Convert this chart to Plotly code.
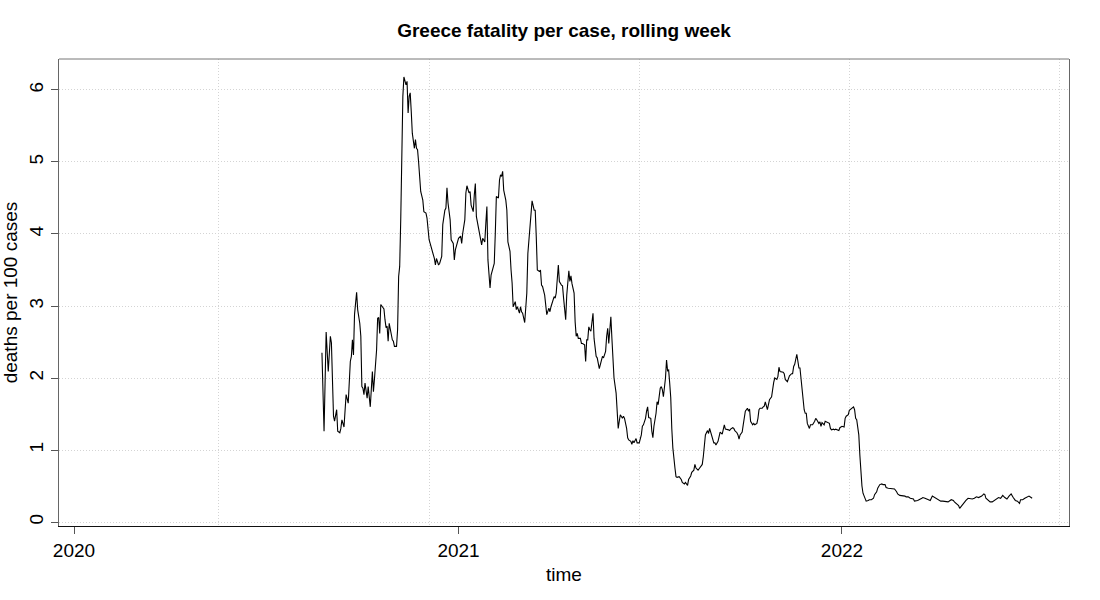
import pandas as pd
import plotly.graph_objects as go

# ---- data ----
# days counted from 1 January 2020
day_2020 = [236, 238, 240, 242, 244, 245, 247, 248, 250, 251,
            253, 254, 255, 257, 259, 261, 263, 264, 265, 266,
            267, 269, 270, 272, 273, 274, 275, 276, 277, 279,
            280, 281, 282, 284, 285, 286, 288, 289, 290, 291,
            292, 293, 295, 296, 297, 298, 299, 300, 301, 303,
            304, 305, 307, 308, 309, 310, 311, 312, 313, 314,
            315, 316, 317, 318, 319, 320, 321, 322, 324, 325,
            326, 327, 328, 330, 332, 333, 335, 336, 338, 339,
            341, 343, 344, 345, 347, 348, 350, 351, 353, 354,
            355, 356, 358, 359, 361, 362, 363, 365]
fatality_2020 = [2.35, 1.26, 2.64, 2.09, 2.58, 2.49, 1.47, 1.40, 1.56, 1.26,
                 1.24, 1.30, 1.42, 1.32, 1.77, 1.65, 2.23, 2.30, 2.53, 2.32,
                 2.88, 3.19, 2.95, 2.76, 2.58, 1.88, 1.86, 1.77, 1.93, 1.72,
                 1.88, 1.67, 1.60, 2.09, 1.81, 1.99, 2.39, 2.83, 2.84, 2.62,
                 3.02, 3.00, 2.96, 2.81, 2.70, 2.72, 2.51, 2.76, 2.67, 2.53,
                 2.51, 2.44, 2.44, 2.67, 3.41, 3.55, 4.20, 5.12, 5.91, 6.18,
                 6.14, 6.07, 6.12, 5.68, 5.91, 5.96, 5.70, 5.40, 5.19, 5.31,
                 5.19, 5.17, 5.00, 4.59, 4.47, 4.31, 4.29, 4.22, 3.92, 3.87,
                 3.76, 3.66, 3.57, 3.66, 3.57, 3.59, 3.69, 4.13, 4.33, 4.36,
                 4.64, 4.43, 4.20, 3.92, 3.87, 3.64, 3.78, 3.89]

day_2021 = [366, 368, 369, 370, 372, 373, 374, 376, 377, 378,
            380, 381, 382, 383, 384, 385, 387, 388, 389, 391,
            392, 393, 394, 396, 397, 398, 400, 401, 402, 404,
            405, 406, 407, 408, 409, 411, 412, 413, 415, 416,
            417, 418, 420, 421, 422, 424, 425, 426, 427, 429,
            430, 431, 432, 434, 435, 436, 438, 439, 440, 441,
            443, 444, 445, 446, 448, 449, 450, 452, 453, 454,
            455, 457, 458, 459, 461, 462, 464, 465, 466, 468,
            469, 471, 472, 473, 474, 476, 477, 478, 479, 480,
            482, 483, 484, 486, 487, 488, 489, 490, 491, 492,
            494, 495, 497, 498, 500, 501, 502, 503, 504, 506,
            507, 508, 509, 511, 512, 513, 514, 516, 517, 518,
            519, 520, 522, 523, 524, 526, 527, 528, 530, 531,
            532, 533, 535, 536, 537, 538, 540, 541, 542, 544,
            545, 546, 547, 549, 550, 551, 552, 554, 555, 556,
            558, 559, 560, 561, 563, 564, 565, 566, 567, 568,
            569, 570, 572, 573, 574, 576, 578, 579, 581, 582,
            584, 585, 587, 588, 590, 591, 592, 594, 595, 596,
            598, 599, 600, 601, 603, 604, 605, 606, 608, 609,
            610, 611, 613, 614, 615, 617, 618, 619, 620, 622,
            623, 624, 625, 627, 628, 629, 631, 632, 633, 634,
            636, 637, 638, 639, 641, 642, 643, 644, 646, 647,
            648, 650, 651, 652, 653, 655, 656, 657, 658, 660,
            661, 662, 664, 665, 666, 667, 669, 670, 671, 672,
            674, 675, 676, 677, 679, 680, 681, 683, 684, 685,
            686, 688, 689, 690, 691, 692, 693, 695, 696, 697,
            698, 700, 701, 702, 703, 705, 706, 707, 709, 710,
            711, 712, 714, 715, 716, 717, 719, 720, 721, 723,
            724, 725, 726, 728, 729, 730]
fatality_2021 = [3.94, 3.97, 3.87, 4.01, 4.20, 4.57, 4.67, 4.57, 4.59, 4.40,
                 4.31, 4.54, 4.70, 4.24, 4.17, 4.06, 3.94, 3.85, 3.94, 3.89,
                 4.15, 4.38, 3.64, 3.25, 3.43, 3.50, 3.59, 4.01, 4.52, 4.50,
                 4.75, 4.82, 4.80, 4.87, 4.61, 4.47, 4.33, 3.89, 3.76, 3.50,
                 3.32, 2.99, 3.06, 2.95, 2.99, 2.90, 2.99, 2.92, 2.90, 2.77,
                 2.99, 3.18, 3.73, 4.10, 4.33, 4.46, 4.33, 4.33, 3.96, 3.50,
                 3.48, 3.50, 3.29, 3.27, 3.15, 2.99, 2.88, 2.97, 2.92, 2.99,
                 3.04, 3.13, 3.11, 3.18, 3.57, 3.34, 3.29, 3.28, 3.11, 2.81,
                 3.15, 3.49, 3.34, 3.42, 3.31, 3.18, 2.78, 2.58, 2.62, 2.55,
                 2.55, 2.48, 2.48, 2.46, 2.23, 2.53, 2.53, 2.71, 2.67, 2.65,
                 2.90, 2.55, 2.30, 2.28, 2.13, 2.18, 2.23, 2.30, 2.28, 2.37,
                 2.58, 2.69, 2.48, 2.85, 2.55, 2.18, 2.00, 1.79, 1.49, 1.30,
                 1.40, 1.49, 1.44, 1.47, 1.44, 1.30, 1.17, 1.14, 1.12, 1.08,
                 1.13, 1.10, 1.16, 1.10, 1.10, 1.10, 1.21, 1.33, 1.35, 1.44,
                 1.54, 1.60, 1.45, 1.44, 1.26, 1.17, 1.33, 1.51, 1.67, 1.63,
                 1.86, 1.88, 1.84, 1.74, 2.00, 2.25, 2.10, 2.11, 1.93, 1.73,
                 1.30, 1.03, 0.75, 0.63, 0.62, 0.63, 0.59, 0.55, 0.53, 0.55,
                 0.51, 0.59, 0.64, 0.69, 0.72, 0.80, 0.75, 0.72, 0.74, 0.76,
                 0.80, 0.91, 1.10, 1.21, 1.27, 1.23, 1.30, 1.25, 1.12, 1.10,
                 1.10, 1.07, 1.12, 1.21, 1.25, 1.22, 1.31, 1.35, 1.29, 1.29,
                 1.28, 1.27, 1.29, 1.31, 1.30, 1.27, 1.24, 1.21, 1.15, 1.21,
                 1.25, 1.35, 1.44, 1.54, 1.58, 1.54, 1.57, 1.40, 1.35, 1.37,
                 1.35, 1.37, 1.44, 1.56, 1.58, 1.58, 1.60, 1.61, 1.67, 1.56,
                 1.63, 1.70, 1.74, 1.86, 1.94, 2.00, 1.98, 2.02, 2.15, 2.09,
                 2.09, 2.08, 2.06, 1.98, 1.95, 1.98, 2.03, 2.06, 2.06, 2.16,
                 2.19, 2.33, 2.21, 2.14, 2.14, 2.00, 1.77, 1.56, 1.51, 1.51,
                 1.37, 1.30, 1.35, 1.35, 1.35, 1.40, 1.44, 1.42, 1.37, 1.39,
                 1.33, 1.38, 1.35, 1.40, 1.39, 1.39, 1.37, 1.30, 1.28, 1.29,
                 1.28, 1.29, 1.28, 1.27, 1.31, 1.32]

day_2022 = [731, 733, 734, 735, 737, 738, 740, 742, 743, 744,
            745, 747, 748, 749, 750, 751, 753, 754, 756, 757,
            759, 761, 762, 764, 765, 767, 769, 770, 772, 773,
            775, 776, 778, 780, 781, 783, 784, 786, 788, 789,
            791, 792, 794, 796, 797, 799, 800, 803, 807, 808,
            810, 812, 815, 817, 819, 821, 823, 825, 827, 829,
            832, 835, 837, 838, 840, 842, 843, 845, 847, 849,
            851, 853, 855, 857, 859, 861, 864, 866, 867, 868,
            870, 872, 874, 876, 878, 880, 882, 884, 886, 888,
            890, 892, 894, 896, 898, 900, 901, 903, 905, 907,
            909, 911, 912]
fatality_2022 = [1.33, 1.32, 1.44, 1.47, 1.49, 1.55, 1.58, 1.60, 1.56, 1.44,
                 1.42, 1.21, 0.93, 0.66, 0.50, 0.40, 0.33, 0.29, 0.30, 0.31,
                 0.31, 0.33, 0.38, 0.42, 0.47, 0.52, 0.53, 0.52, 0.52, 0.48,
                 0.47, 0.47, 0.46, 0.46, 0.46, 0.42, 0.39, 0.37, 0.37, 0.36,
                 0.36, 0.35, 0.35, 0.33, 0.33, 0.32, 0.29, 0.30, 0.33, 0.34,
                 0.33, 0.32, 0.30, 0.36, 0.34, 0.32, 0.30, 0.29, 0.29, 0.29,
                 0.28, 0.31, 0.30, 0.28, 0.25, 0.23, 0.19, 0.23, 0.26, 0.30,
                 0.33, 0.32, 0.32, 0.33, 0.35, 0.34, 0.36, 0.39, 0.38, 0.33,
                 0.30, 0.28, 0.28, 0.30, 0.33, 0.34, 0.33, 0.37, 0.34, 0.32,
                 0.36, 0.39, 0.34, 0.30, 0.29, 0.26, 0.31, 0.31, 0.33, 0.35,
                 0.36, 0.34, 0.33]

x_tick_dates = ["2020-01-01", "2021-01-01", "2022-01-01"]
x_tick_labels = ["2020", "2021", "2022"]
grid_dates = ["2020-05-18", "2020-12-04", "2021-06-22", "2022-01-08", "2022-07-27"]
y_ticks = [0, 1, 2, 3, 4, 5, 6]

# ---- build ----
days = day_2020 + day_2021 + day_2022
values = fatality_2020 + fatality_2021 + fatality_2022
assert len(days) == len(values)
dates = pd.Timestamp("2020-01-01") + pd.to_timedelta(days, unit="D")

FONT = "Liberation Sans, Arial, Helvetica, sans-serif"
GRID = "#d4d4d4"
GRID_DASH = "1px,2px"

fig = go.Figure(go.Scatter(x=dates, y=values, mode="lines",
                           line=dict(color="black", width=1.1),
                           hoverinfo="x+y", showlegend=False))

fig.update_layout(
    width=1100, height=600,
    margin=dict(l=59, r=31, t=59, b=74),
    paper_bgcolor="white", plot_bgcolor="white",
    font=dict(family=FONT, size=19, color="black"),
    title=dict(text="<b>Greece fatality per case, rolling week</b>",
               x=0.5, xref="paper", xanchor="center",
               y=1 - 30 / 600, yref="container", yanchor="middle",
               font=dict(family=FONT, size=19, color="black")),
    shapes=[dict(type="line", xref="paper", yref="paper", x0=0, x1=1, y0=1, y1=1,
                 line=dict(color="#777777", width=1), layer="above")],
)

fig.update_xaxes(
    type="date",
    range=["2019-12-17 17:00", "2022-08-05 02:00"],
    tickmode="array", tickvals=x_tick_dates, ticktext=x_tick_labels,
    ticks="outside", ticklen=7, tickcolor="#555", tickwidth=1,
    showgrid=False, zeroline=False,
    showline=True, linecolor="#111", linewidth=1, mirror=False,
    minor=dict(tickmode="array", tickvals=grid_dates, showgrid=True,
               gridcolor=GRID, griddash=GRID_DASH, gridwidth=1, ticks=""),
    title=dict(text="time", font=dict(size=19), standoff=7),
    automargin=False,
)

fig.update_yaxes(
    range=[-0.055, 6.43],
    tickmode="array", tickvals=y_ticks,
    tickangle=-90,
    ticks="outside", ticklen=7, tickcolor="#555", tickwidth=1,
    showgrid=True, gridcolor=GRID, griddash=GRID_DASH, gridwidth=1,
    zeroline=False,
    showline=True, linecolor="#666", linewidth=1, mirror=True,
    title=dict(text="deaths per 100 cases", font=dict(size=19), standoff=16),
    automargin=False,
)

fig.write_html("out.html",
               config={"displayModeBar": False},
               post_script="document.body.style.margin='0';document.body.style.padding='0';")
